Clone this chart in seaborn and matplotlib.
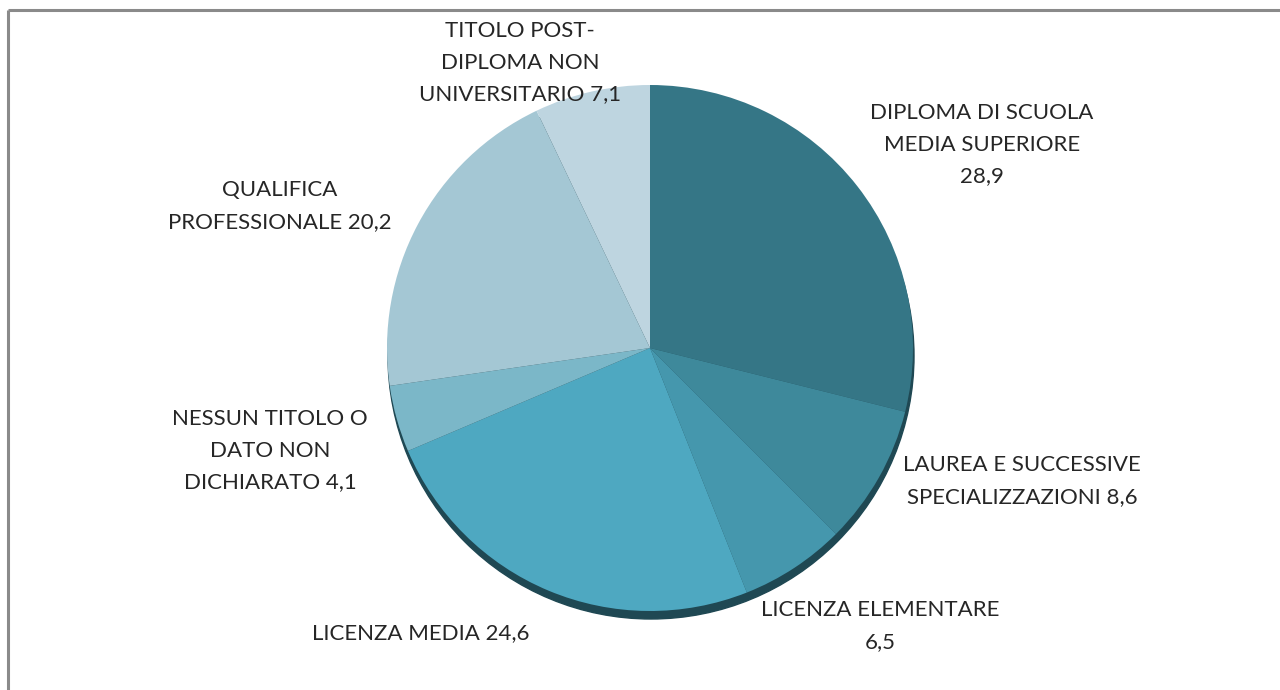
import matplotlib
matplotlib.use("Agg")
import matplotlib.pyplot as plt
import seaborn as sns
from matplotlib.patches import Circle

# data
labels = [
    "DIPLOMA DI SCUOLA\nMEDIA SUPERIORE\n28,9",
    "LAUREA E SUCCESSIVE\nSPECIALIZZAZIONI 8,6",
    "LICENZA ELEMENTARE\n6,5",
    "LICENZA MEDIA 24,6",
    "NESSUN TITOLO O\nDATO NON\nDICHIARATO 4,1",
    "QUALIFICA\nPROFESSIONALE 20,2",
    "TITOLO POST-\nDIPLOMA NON\nUNIVERSITARIO 7,1",
]
values = [28.9, 8.6, 6.5, 24.6, 4.1, 20.2, 7.1]
colors = ["#357686", "#3e899b", "#4597ad", "#4ea8c1", "#7bb7c8", "#a4c7d4", "#bed5e0"]

# label centres in pixels (x, y from top)
label_pos = [(982, 145), (1022, 481), (880, 626), (421, 633),
             (270, 451), (280, 206), (520, 63)]

W, H = 1280, 690
CX, CY, R = 650, 348, 263

sns.set_theme(style="white")
plt.rcParams["font.family"] = ["Lato", "DejaVu Sans"]

fig = plt.figure(figsize=(W / 100, H / 100), dpi=100)
ax = fig.add_axes([0, 0, 1, 1])

# frame lines (top and left only)
ax.plot([8, W], [H - 10, H - 10], color="#8a8a8a", lw=2.2, solid_capstyle="butt")
ax.plot([8, 8], [0, H - 10], color="#8a8a8a", lw=2.2, solid_capstyle="butt")

# depth / shadow under the pie
ax.add_patch(Circle((CX + 1, H - CY - 8), R, color="#1f4853", zorder=1))

ax.pie(values, colors=colors, startangle=90, counterclock=False,
       center=(CX, H - CY), radius=R, frame=True,
       wedgeprops=dict(linewidth=0, zorder=2))
ax.set_xlim(0, W)
ax.set_ylim(0, H)
ax.set_aspect("auto")
ax.set_axis_off()

for txt, (x, y) in zip(labels, label_pos):
    ax.text(x, H - y, txt, ha="center", va="center", fontsize=16,
            color="#262626", linespacing=1.72, zorder=5)

fig.savefig("out.png", dpi=100)
